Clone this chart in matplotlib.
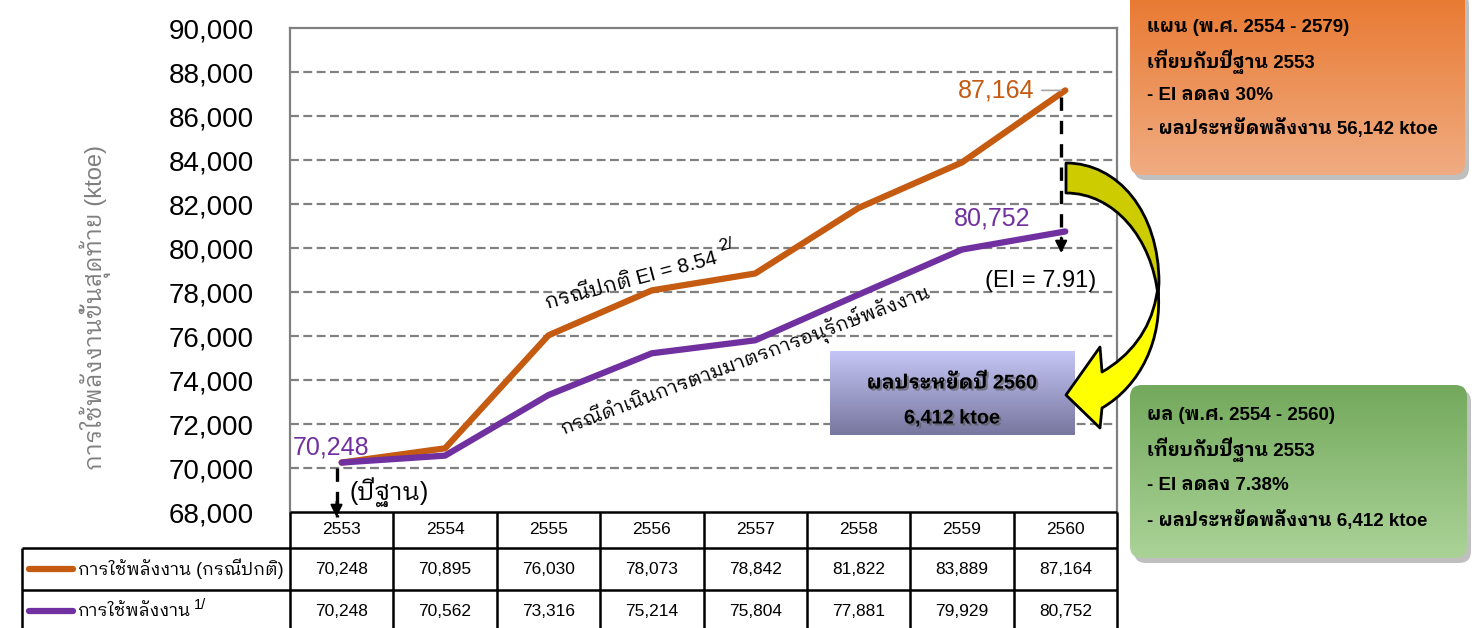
import numpy as np
import matplotlib
matplotlib.use('Agg')
import matplotlib.pyplot as plt
import matplotlib.patheffects as pe
from matplotlib.patches import FancyBboxPatch, PathPatch
from matplotlib.path import Path
from matplotlib.colors import LinearSegmentedColormap

plt.rcParams['font.family'] = ['Liberation Sans', 'IBM Plex Sans Thai Looped', 'Sarabun',
                               'Noto Sans Thai Looped', 'Noto Sans Thai', 'DejaVu Sans']

# energy use, ktoe
years = ['2553', '2554', '2555', '2556', '2557', '2558', '2559', '2560']
use_normal = [70248, 70895, 76030, 78073, 78842, 81822, 83889, 87164]
use_saving = [70248, 70562, 73316, 75214, 75804, 77881, 79929, 80752]
row_labels = ['การใช้พลังงาน (กรณีปกติ)', 'การใช้พลังงาน']
yticks = list(range(68000, 90001, 2000))

ORANGE = '#C55A11'
PURPLE = '#7030A0'
GRID = '#808080'

W, H = 1475, 628
fig = plt.figure(figsize=(W / 100, H / 100), dpi=100)


def fx(px):
    return px / W


def fy(py):
    return 1 - py / H


# ---- main chart ----
ax = fig.add_axes([fx(290), fy(512), fx(1117) - fx(290), fy(28) - fy(512)])
x = np.arange(len(years))
ax.set_xlim(-0.5, len(years) - 0.5)
ax.set_ylim(yticks[0], yticks[-1])
ax.set_yticks(yticks)
ax.set_yticklabels([f'{v:,}' for v in yticks], fontsize=20)
ax.tick_params(axis='y', length=0, pad=26)
ax.set_xticks([])
for v in yticks[1:-1]:
    ax.axhline(v, color=GRID, lw=1.6, ls=(0, (4, 2)), zorder=1)
for s in ['left', 'top', 'right']:
    ax.spines[s].set_color(GRID)
    ax.spines[s].set_linewidth(1.6)
ax.spines['bottom'].set_visible(False)

fig.text(fx(95), fy(307), 'การใช้พลังงานขั้นสุดท้าย (ktoe)', rotation=90,
         ha='center', va='center', fontsize=17, color='#7F7F7F')

ax.plot(x, use_normal, color=ORANGE, lw=4.5, solid_capstyle='round',
        solid_joinstyle='round', zorder=3)
ax.plot(x, use_saving, color=PURPLE, lw=4.5, solid_capstyle='round',
        solid_joinstyle='round', zorder=3)

# value labels
ax.annotate(f'{use_saving[0]:,}', (x[0], use_saving[0]), xytext=(-8, 11),
            textcoords='offset points', ha='center', va='center',
            fontsize=18, color=PURPLE)
ax.annotate(f'{use_normal[-1]:,}', (x[-1], use_normal[-1]), xytext=(-22, 0),
            textcoords='offset points', ha='right', va='center',
            fontsize=18, color=ORANGE,
            arrowprops=dict(arrowstyle='-', color='#A6A6A6', lw=1.2,
                            shrinkA=3, shrinkB=3))
ax.annotate(f'{use_saving[-1]:,}', (x[-1], use_saving[-1]), xytext=(-25, 9),
            textcoords='offset points', ha='right', va='center',
            fontsize=18, color=PURPLE)

# dashed drop arrows
def drop_arrow(xv, y_from, y_to):
    ax.plot([xv, xv], [y_from, y_to], color='black', lw=2.4,
            ls=(0, (4, 3)), clip_on=False, zorder=4)
    ax.annotate('', xy=(xv, y_to), xytext=(xv, y_to + 700),
                arrowprops=dict(arrowstyle='-|>', color='black', lw=1.5,
                                mutation_scale=18, shrinkA=0, shrinkB=0),
                annotation_clip=False, zorder=4)


drop_arrow(x[0] - 0.05, use_saving[0] - 250, yticks[0] - 230)
drop_arrow(x[-1] - 0.04, use_normal[-1] - 300, use_saving[-1] - 980)

ax.text(x[0] + 0.46, 68900, '(ปีฐาน)', ha='center', va='center', fontsize=18)
ax.text(x[-1] - 0.24, 78500, '(EI = 7.91)', ha='center', va='center', fontsize=17)

# rotated case labels
ang1 = 15
ax.text(3.64, 79320, 'กรณีปกติ EI = 8.54', rotation=ang1, rotation_mode='anchor',
        ha='right', va='baseline', fontsize=14.8)
r = np.deg2rad(ang1)
ox, oy = 4.0, 8.0
ax.annotate('2/', (3.64, 79320), xytext=(ox * np.cos(r) - oy * np.sin(r),
                                           ox * np.sin(r) + oy * np.cos(r)),
            textcoords='offset points', rotation=ang1, rotation_mode='anchor',
            ha='left', va='baseline', fontsize=12.5)
ax.text(3.93, 74680, 'กรณีดำเนินการตามมาตรการอนุรักษ์พลังงาน', rotation=20.5,
        rotation_mode='anchor', ha='center', va='baseline', fontsize=14.2)

# ---- data table under the chart ----
cw = (1117 - 290) / len(years)
tab = fig.add_axes([fx(22), 0, fx(1117) - fx(22), fy(512)])
left_edge = -0.5 - (290 - 22) / cw
tab.set_xlim(left_edge, len(years) - 0.5)
tab.set_ylim(116, 0)
tab.axis('off')
row_edges = [0, 36, 78, 120]
tab.hlines(row_edges[0], -0.5, len(years) - 0.5, color='black', lw=1.8, clip_on=False)
tab.hlines(row_edges[1:], left_edge, len(years) - 0.5, color='black', lw=1.8, clip_on=False)
tab.vlines(np.arange(len(years) + 1) - 0.5, row_edges[0], row_edges[-1],
           color='black', lw=1.8, clip_on=False)
tab.vlines(left_edge, row_edges[1], row_edges[-1], color='black', lw=1.8, clip_on=False)

for i, yr in enumerate(years):
    tab.text(i, (row_edges[0] + row_edges[1]) / 2, yr, ha='center', va='center', fontsize=12.5)
    tab.text(i, (row_edges[1] + row_edges[2]) / 2, f'{use_normal[i]:,}',
             ha='center', va='center', fontsize=12.5)
    tab.text(i, (row_edges[2] + row_edges[3]) / 2, f'{use_saving[i]:,}',
             ha='center', va='center', fontsize=12.5)


def tx(px):
    return left_edge + (px - 22) / cw


row_labs = []
for k, (lab, col) in enumerate(zip(row_labels, [ORANGE, PURPLE])):
    yc = (row_edges[k + 1] + row_edges[k + 2]) / 2
    tab.plot([tx(29), tx(73)], [yc, yc], color=col, lw=4.5, solid_capstyle='round')
    row_labs.append(tab.text(tx(78), yc, lab, ha='left', va='center', fontsize=12.7))

fig.canvas.draw()
bb = row_labs[1].get_window_extent()
fig.text(bb.x1 / W + 0.002, bb.y1 / H - 0.004, '1/', ha='left', va='center', fontsize=10.5)

# ---- overlay: callout boxes and curved arrow ----
ov = fig.add_axes([0, 0, 1, 1], zorder=5)


def grad_box(x0, y0, x1, y1, c_top, c_bot, rad=12, shadow=True, edge='none'):
    style = f'round,pad=0,rounding_size={rad}'
    if shadow:
        ov.add_patch(FancyBboxPatch((x0 + 4, y0 + 5), x1 - x0, y1 - y0, boxstyle=style,
                                    fc='black', ec='none', alpha=0.25))
    box = FancyBboxPatch((x0, y0), x1 - x0, y1 - y0, boxstyle=style,
                         fc='none', ec=edge, lw=1, zorder=2)
    ov.add_patch(box)
    cmap = LinearSegmentedColormap.from_list('g', [c_top, c_bot])
    im = ov.imshow(np.linspace(0, 1, 256).reshape(-1, 1), cmap=cmap,
                   extent=(x0, x1, y1, y0), aspect='auto', origin='upper', zorder=1.5)
    im.set_clip_path(box)


grad_box(1130, -12, 1465, 175, '#E8772E', '#F0AC82')
grad_box(1130, 385, 1467, 558, '#73A95C', '#ABD398')
grad_box(830, 351, 1075, 435, '#C6C6F6', '#76769E', rad=0.1, shadow=False)

plan_lines = ['แผน (พ.ศ. 2554 - 2579)', 'เทียบกับปีฐาน 2553', '- EI ลดลง 30%',
              '- ผลประหยัดพลังงาน 56,142 ktoe']
result_lines = ['ผล (พ.ศ. 2554 - 2560)', 'เทียบกับปีฐาน 2553', '- EI ลดลง 7.38%',
                '- ผลประหยัดพลังงาน 6,412 ktoe']
for j, s in enumerate(plan_lines):
    ov.text(1147, 28 + j * 33.5, s, ha='left', va='center', fontsize=13.5,
            fontweight='bold', zorder=3)
for j, s in enumerate(result_lines):
    ov.text(1147, 415 + j * 35, s, ha='left', va='center', fontsize=13.5,
            fontweight='bold', zorder=3)

shadow = [pe.withSimplePatchShadow(offset=(1.5, -1.5), shadow_rgbFace='#555555', alpha=0.6)]
ov.text(952, 383, 'ผลประหยัดปี 2560', ha='center', va='center', fontsize=14.3,
        fontweight='bold', zorder=3, path_effects=shadow)
ov.text(952, 418, '6,412 ktoe', ha='center', va='center', fontsize=14.3,
        fontweight='bold', zorder=3, path_effects=shadow)

# curved arrow, upper (back) band then lower band with head
C3 = Path.CURVE4
upper = Path([(1066, 163), (1118, 163), (1159, 212), (1159, 283), (1158, 296),
              (1152, 238), (1114, 193), (1066, 193), (1066, 163)],
             [Path.MOVETO, C3, C3, C3, Path.LINETO, C3, C3, C3, Path.CLOSEPOLY])
lower = Path([(1158, 288), (1163, 340), (1140, 386), (1102, 408), (1100, 428),
              (1066, 395), (1100, 347), (1102, 372), (1130, 356), (1150, 330),
              (1156, 298), (1158, 288)],
             [Path.MOVETO, C3, C3, C3, Path.LINETO, Path.LINETO, Path.LINETO,
              Path.LINETO, C3, C3, C3, Path.CLOSEPOLY])
ov.add_patch(PathPatch(upper, fc='#CCCC00', ec='black', lw=2, joinstyle='round', zorder=4))
ov.add_patch(PathPatch(lower, fc='#FFFF00', ec='black', lw=2, joinstyle='round', zorder=4))

ov.set_xlim(0, W)
ov.set_ylim(H, 0)
ov.axis('off')

fig.savefig('out.png', dpi=100)
